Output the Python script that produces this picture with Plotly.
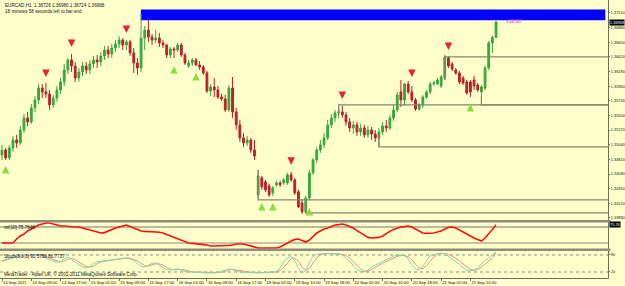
import plotly.graph_objects as go

# ---------------- data ----------------
header_text = "EURCAD,H1  1.36726 1.36980 1.36724 1.36968"
timer_text = "18 minutes 58 seconds left to bar end"
rsi_label = "rsi(10) 75.7648"
stoch_label = "Stoch(5,3,3) 91.5758 86.7727"
footer_text = "MetaTrader - Alpari UK, \u00a9 2001-2011 MetaQuotes Software Corp."
profit_text = "+18.68"
last_price = 1.36968

opens = [
    1.34881, 1.34959, 1.34834, 1.34990, 1.35116, 1.35069, 1.35273, 1.35461, 1.35399, 1.35618,
    1.35744, 1.35932, 1.35870, 1.35838, 1.35666, 1.35775, 1.35901, 1.36027, 1.36215, 1.36372,
    1.36278, 1.36089, 1.36184, 1.36278, 1.36215, 1.36309, 1.36372, 1.36341, 1.36435, 1.36529,
    1.36466, 1.36560, 1.36623, 1.36686, 1.36608, 1.36655, 1.36482, 1.36325, 1.36246, 1.36717,
    1.36843, 1.36733, 1.36686, 1.36717, 1.36639, 1.36608, 1.36451, 1.36545, 1.36529, 1.36608,
    1.36451, 1.36278, 1.36325, 1.36372, 1.36294, 1.36262, 1.36168, 1.35885, 1.35948, 1.35901,
    1.35791, 1.35760, 1.35587, 1.35932, 1.35556, 1.35352, 1.35148, 1.35069, 1.35116, 1.34959,
    1.34253, 1.34520, 1.34457, 1.34394, 1.34284, 1.34410, 1.34441, 1.34441, 1.34441, 1.34567,
    1.34488, 1.34300, 1.34127, 1.33986, 1.34205, 1.34598, 1.34802, 1.34959, 1.35038, 1.35148,
    1.35352, 1.35461, 1.35540, 1.35556, 1.35509, 1.35399, 1.35304, 1.35352, 1.35242, 1.35304,
    1.35195, 1.35273, 1.35210, 1.35148, 1.35242, 1.35336, 1.35304, 1.35461, 1.35587, 1.35870,
    1.35744, 1.35995, 1.35870, 1.35744, 1.35603, 1.35666, 1.35791, 1.35870, 1.35995, 1.35995,
    1.35964, 1.36089, 1.36403, 1.36309, 1.36215, 1.36168, 1.36089, 1.36027, 1.36027, 1.36058,
    1.35980, 1.35870, 1.35932, 1.36246, 1.36639, 1.36726,
]
highs = [
    1.35038, 1.34990, 1.35038, 1.35179, 1.35195, 1.35336, 1.35524, 1.35556, 1.35681, 1.35807,
    1.35995, 1.35995, 1.36011, 1.35901, 1.35823, 1.35964, 1.36089, 1.36309, 1.36403, 1.36466,
    1.36341, 1.36246, 1.36341, 1.36341, 1.36372, 1.36435, 1.36451, 1.36498, 1.36592, 1.36592,
    1.36623, 1.36686, 1.36749, 1.36717, 1.36686, 1.36686, 1.36560, 1.36403, 1.37094, 1.36906,
    1.37000, 1.36780, 1.36843, 1.36796, 1.36686, 1.36623, 1.36576, 1.36576, 1.36639, 1.36639,
    1.36482, 1.36372, 1.36403, 1.36403, 1.36356, 1.36294, 1.36199, 1.35995, 1.36089, 1.35964,
    1.35838, 1.35823, 1.35980, 1.36105, 1.35618, 1.35430, 1.35226, 1.35179, 1.35148, 1.35116,
    1.34645, 1.34551, 1.34488, 1.34425, 1.34394, 1.34472, 1.34472, 1.34520, 1.34598, 1.34614,
    1.34520, 1.34331, 1.34174, 1.34237, 1.34645, 1.34834, 1.35006, 1.35116, 1.35226, 1.35430,
    1.35524, 1.35587, 1.35618, 1.35650, 1.35556, 1.35461, 1.35414, 1.35399, 1.35367, 1.35352,
    1.35336, 1.35320, 1.35273, 1.35304, 1.35399, 1.35430, 1.35509, 1.35666, 1.35870, 1.36058,
    1.36011, 1.36042, 1.35964, 1.35775, 1.35697, 1.35823, 1.35901, 1.36027, 1.36042, 1.36089,
    1.36137, 1.36451, 1.36435, 1.36341, 1.36246, 1.36199, 1.36121, 1.36058, 1.36058, 1.36121,
    1.36011, 1.35980, 1.36278, 1.36670, 1.36749, 1.36980,
]
lows = [
    1.34802, 1.34802, 1.34802, 1.34928, 1.34990, 1.35038, 1.35226, 1.35336, 1.35367, 1.35556,
    1.35681, 1.35775, 1.35775, 1.35587, 1.35618, 1.35713, 1.35838, 1.35964, 1.36152, 1.36184,
    1.36027, 1.36027, 1.36121, 1.36152, 1.36152, 1.36246, 1.36246, 1.36278, 1.36372, 1.36403,
    1.36403, 1.36498, 1.36560, 1.36529, 1.36529, 1.36435, 1.36168, 1.36137, 1.36184, 1.36529,
    1.36655, 1.36608, 1.36639, 1.36576, 1.36560, 1.36403, 1.36403, 1.36403, 1.36498, 1.36419,
    1.36294, 1.36246, 1.36278, 1.36278, 1.36215, 1.36137, 1.35854, 1.35807, 1.35791, 1.35760,
    1.35728, 1.35556, 1.35556, 1.35461, 1.35273, 1.35085, 1.35006, 1.35022, 1.34912, 1.34802,
    1.34190, 1.34331, 1.34300, 1.34221, 1.34237, 1.34378, 1.34378, 1.34410, 1.34410, 1.34457,
    1.34253, 1.34048, 1.33954, 1.33954, 1.34174, 1.34567, 1.34755, 1.34912, 1.34990, 1.35116,
    1.35304, 1.35399, 1.35461, 1.35461, 1.35336, 1.35242, 1.35210, 1.35179, 1.35179, 1.35148,
    1.35148, 1.35116, 1.35085, 1.35006, 1.35195, 1.35242, 1.35273, 1.35414, 1.35556, 1.35634,
    1.35650, 1.35838, 1.35713, 1.35571, 1.35571, 1.35618, 1.35760, 1.35838, 1.35964, 1.35980,
    1.35932, 1.36058, 1.36246, 1.36199, 1.36137, 1.35995, 1.35980, 1.35823, 1.35791, 1.35901,
    1.35870, 1.35807, 1.35901, 1.36215, 1.36482, 1.36724,
]
closes = [
    1.34959, 1.34834, 1.34990, 1.35116, 1.35069, 1.35273, 1.35461, 1.35399, 1.35618, 1.35744,
    1.35932, 1.35870, 1.35838, 1.35666, 1.35775, 1.35901, 1.36027, 1.36215, 1.36372, 1.36278,
    1.36089, 1.36184, 1.36278, 1.36215, 1.36309, 1.36372, 1.36341, 1.36435, 1.36529, 1.36466,
    1.36560, 1.36623, 1.36686, 1.36608, 1.36655, 1.36482, 1.36325, 1.36246, 1.36717, 1.36843,
    1.36733, 1.36686, 1.36717, 1.36639, 1.36608, 1.36451, 1.36545, 1.36529, 1.36608, 1.36451,
    1.36325, 1.36325, 1.36372, 1.36294, 1.36262, 1.36168, 1.35885, 1.35948, 1.35901, 1.35791,
    1.35760, 1.35587, 1.35932, 1.35556, 1.35352, 1.35148, 1.35069, 1.35116, 1.34959, 1.34865,
    1.34551, 1.34378, 1.34331, 1.34253, 1.34362, 1.34441, 1.34410, 1.34488, 1.34567, 1.34488,
    1.34284, 1.34064, 1.33986, 1.34205, 1.34598, 1.34802, 1.34959, 1.35038, 1.35148, 1.35352,
    1.35461, 1.35540, 1.35556, 1.35509, 1.35399, 1.35304, 1.35352, 1.35242, 1.35304, 1.35195,
    1.35273, 1.35210, 1.35148, 1.35242, 1.35336, 1.35304, 1.35461, 1.35587, 1.35823, 1.35744,
    1.35995, 1.35870, 1.35744, 1.35603, 1.35666, 1.35791, 1.35870, 1.35995, 1.36011, 1.36058,
    1.36105, 1.36419, 1.36278, 1.36231, 1.36168, 1.36027, 1.36011, 1.35854, 1.35870, 1.35964,
    1.35901, 1.35948, 1.36246, 1.36639, 1.36726, 1.36968,
]

rsi = [
    30, 30, 30, 30, 40, 47.5, 52.5, 60, 65, 70,
    75, 77.5, 80, 80, 77.5, 75, 72.5, 72.5, 71, 70.5,
    70, 70, 67.5, 65, 62.5, 59, 56, 55, 56, 60,
    65, 67.5, 70, 72.5, 75, 71, 67.5, 62.5, 60, 59,
    58, 57.5, 57.5, 57, 55, 51, 47.5, 44, 40, 36,
    32.5, 30, 29, 27.5, 27.5, 26, 25, 22.5, 22.5, 22.5,
    22.5, 22.5, 24, 25, 27.5, 27.5, 27.5, 25, 22.5, 20,
    17.5, 17.5, 17.5, 17.5, 17.5, 17.5, 20, 24, 30, 35,
    39, 40, 36, 32.5, 37.5, 46, 55, 60, 65, 67.5,
    71, 75, 76, 77.5, 75, 71, 67.5, 61, 55, 49,
    44, 42.5, 42.5, 44, 47.5, 54, 59, 64, 67.5, 70,
    71, 72.5, 70, 65, 60, 55, 54, 54, 55, 57.5,
    60, 65, 69, 70, 67.5, 62.5, 57.5, 51, 47.5, 42.5,
    39, 35, 42.5, 52.5, 64, 75.76,
]
stoch_main = [
    60, 65, 70, 73, 75, 76, 77, 78, 80, 82,
    80, 76, 70, 64, 58, 55, 56, 66, 73, 65,
    54, 45, 38, 34, 40, 50, 56, 58, 60, 62,
    64, 66, 68, 70, 70, 66, 60, 50, 40, 38,
    44, 50, 52, 45, 36, 28, 27, 30, 31, 27,
    22, 20, 20, 20, 19, 17, 16, 17, 17, 18,
    22, 27, 31, 28, 23, 20, 19, 18, 17, 16,
    17, 18, 18, 19, 20, 21, 35, 55, 70, 75,
    60, 35, 17, 25, 55, 75, 82, 84, 85, 85,
    84, 84, 83, 80, 70, 58, 42, 28, 22, 20,
    28, 38, 45, 50, 57, 63, 70, 76, 80, 80,
    78, 65, 45, 30, 27, 40, 60, 78, 82, 85,
    87, 84, 75, 68, 60, 48, 35, 27, 25, 27,
    35, 48, 60, 70, 80, 91.58,
]
stoch_signal = [
    58, 62, 65, 69, 73, 75, 76, 77, 78, 80,
    81, 79, 75, 70, 64, 59, 56, 59, 65, 68,
    64, 55, 46, 39, 37, 41, 49, 55, 58, 60,
    62, 64, 66, 68, 69, 69, 65, 59, 50, 43,
    41, 44, 49, 49, 44, 36, 30, 28, 29, 29,
    27, 23, 21, 20, 20, 19, 17, 17, 17, 17,
    19, 22, 27, 29, 27, 24, 21, 19, 18, 17,
    17, 17, 18, 18, 19, 20, 25, 37, 53, 67,
    68, 57, 37, 26, 32, 52, 71, 80, 84, 85,
    85, 84, 84, 82, 78, 69, 57, 43, 31, 23,
    23, 29, 37, 44, 51, 57, 63, 70, 75, 79,
    79, 74, 63, 47, 34, 32, 42, 59, 73, 82,
    85, 85, 82, 76, 68, 59, 48, 37, 29, 26,
    29, 37, 48, 59, 70, 86.77,
]

time_labels = [
    "14 Sep 2011", "14 Sep 09:00", "14 Sep 17:00", "15 Sep 01:00", "15 Sep 09:00",
    "15 Sep 17:00", "16 Sep 01:00", "16 Sep 09:00", "16 Sep 17:00", "19 Sep 02:00",
    "19 Sep 10:00", "19 Sep 18:00", "20 Sep 02:00", "20 Sep 10:00", "20 Sep 18:00",
    "21 Sep 02:00", "21 Sep 10:00",
]
bars_per_label = 8
price_ticks = [1.37110, 1.36880, 1.36650, 1.36420, 1.36190, 1.35960, 1.35730, 1.35500,
               1.35270, 1.35040, 1.34810, 1.34580, 1.34350, 1.34120, 1.33890]

# fractal arrows
up_fractal_bars = [12, 19, 34, 79, 93, 112, 122]
up_fractal_prices = [1.36105, 1.36576, 1.36796, 1.34724, 1.35760, 1.36105, 1.36529]
down_fractal_bars = [1, 47, 53, 71, 74, 84, 128]
down_fractal_prices = [1.34708, 1.36278, 1.36168, 1.34127, 1.34127, 1.34048, 1.35681]

# support / resistance levels (start bar, level price, anchor price of the vertical stub)
level_bars = [121, 92, 131, 103, 70, 83]
level_prices = [1.36419, 1.35666, 1.35666, 1.35006, 1.34174, 1.33970]
level_anchors = [1.36058, 1.35540, 1.35807, 1.35195, 1.34645, 1.34205]

# blue rectangle object
box_start_bar, box_end_bar = 38, 164.8
box_top, box_bottom = 1.37160, 1.37000

rsi_levels = [70, 30]
stoch_levels = [80, 20]

# ---------------- layout helpers ----------------
W, H = 625, 286
ML, MR, MT, MB = 0, 17, 0, 8
PW, PH = W - ML - MR, H - MT - MB


def py(p):
    return (PH - (p - MT)) / PH


def pxx(p):
    return (p - ML) / PW


XR = [-0.55, 165.6]
BG = "#FFFFCC"
GREEN = "#35A83E"
RED = "#BE1E2A"
AXC = "#6E6E5C"
FONT = "Liberation Sans"

bars = list(range(len(closes)))

fig = go.Figure()

fig.add_trace(go.Candlestick(
    x=bars, open=opens, high=highs, low=lows, close=closes,
    xaxis="x", yaxis="y",
    increasing=dict(line=dict(color=GREEN, width=1), fillcolor=GREEN),
    decreasing=dict(line=dict(color=RED, width=1), fillcolor=RED),
    whiskerwidth=0, showlegend=False, hoverinfo="skip",
))

for b, lp, la in zip(level_bars, level_prices, level_anchors):
    fig.add_trace(go.Scatter(
        x=[b, b, XR[1]], y=[la, lp, lp], mode="lines",
        line=dict(color="#85856C", width=1.2), xaxis="x", yaxis="y",
        showlegend=False, hoverinfo="skip",
    ))

fig.add_trace(go.Scatter(
    x=up_fractal_bars, y=up_fractal_prices, mode="markers",
    marker=dict(symbol="arrow-down", size=7.5, color="#E8232B"),
    xaxis="x", yaxis="y", showlegend=False, hoverinfo="skip",
))
fig.add_trace(go.Scatter(
    x=down_fractal_bars, y=down_fractal_prices, mode="markers",
    marker=dict(symbol="arrow-up", size=7.5, color="#8EDC3C"),
    xaxis="x", yaxis="y", showlegend=False, hoverinfo="skip",
))

fig.add_trace(go.Scatter(
    x=bars, y=rsi, mode="lines", line=dict(color="#FF1010", width=1.6),
    xaxis="x2", yaxis="y2", showlegend=False, hoverinfo="skip",
))
fig.add_trace(go.Scatter(
    x=bars, y=stoch_signal, mode="lines", line=dict(color="#F4907E", width=1),
    xaxis="x3", yaxis="y3", showlegend=False, hoverinfo="skip",
))
fig.add_trace(go.Scatter(
    x=bars, y=stoch_main, mode="lines", line=dict(color="#7FD6B4", width=1),
    xaxis="x3", yaxis="y3", showlegend=False, hoverinfo="skip",
))

shapes = []
# blue rectangle
shapes.append(dict(type="rect", xref="x", yref="y", x0=box_start_bar, x1=box_end_bar,
                   y0=box_bottom, y1=box_top, fillcolor="#0000FF",
                   line=dict(color="#0000FF", width=0.5), layer="below"))
# rsi levels
shapes.append(dict(type="line", xref="paper", yref="y2", x0=0, x1=1, y0=rsi_levels[0], y1=rsi_levels[0],
                   line=dict(color="#77776A", width=1), layer="below"))
shapes.append(dict(type="line", xref="paper", yref="y2", x0=0, x1=1, y0=rsi_levels[1], y1=rsi_levels[1],
                   line=dict(color="#C9C2A0", width=2.2), layer="below"))
# stoch levels
for lv in stoch_levels:
    shapes.append(dict(type="line", xref="paper", yref="y3", x0=0, x1=1, y0=lv, y1=lv,
                       line=dict(color="#8A8A80", width=1, dash="dot"), layer="below"))
# window separators
for top, bot in [(220, 222.5), (248.5, 251)]:
    shapes.append(dict(type="rect", xref="paper", yref="paper", x0=0, x1=1.004,
                       y0=py(bot), y1=py(top), fillcolor="#8E8E7E", line=dict(width=0)))

annotations = []
small = dict(family=FONT, size=4.6, color="#111111")
annotations.append(dict(xref="paper", yref="paper", x=pxx(3), y=py(1), text=header_text,
                        showarrow=False, xanchor="left", yanchor="top", font=small))
annotations.append(dict(xref="paper", yref="paper", x=pxx(3), y=py(7), text=timer_text,
                        showarrow=False, xanchor="left", yanchor="top", font=small))
annotations.append(dict(xref="paper", yref="paper", x=pxx(2), y=py(223), text=rsi_label,
                        showarrow=False, xanchor="left", yanchor="top", font=small))
annotations.append(dict(xref="paper", yref="paper", x=pxx(2), y=py(251.5), text=stoch_label,
                        showarrow=False, xanchor="left", yanchor="top", font=small))
annotations.append(dict(xref="paper", yref="paper", x=pxx(2), y=py(269), text=footer_text,
                        showarrow=False, xanchor="left", yanchor="top", font=small))
annotations.append(dict(xref="x", yref="y", x=len(closes) + 1.2, y=last_price + 0.0001,
                        text=profit_text, showarrow=False, xanchor="left", yanchor="middle",
                        font=dict(family=FONT, size=4.8, color="#E040E0")))
# current price box
annotations.append(dict(xref="paper", yref="y", x=1.0, y=last_price, text="%.5f" % last_price,
                        showarrow=False, xanchor="left", yanchor="middle", xshift=0.5,
                        bgcolor="#000000", borderpad=0,
                        font=dict(family=FONT, size=3.9, color="#FFFFFF")))
# current rsi box
annotations.append(dict(xref="paper", yref="y2", x=1.0, y=rsi[-1], text="%.2f" % rsi[-1],
                        showarrow=False, xanchor="left", yanchor="middle", xshift=0.5,
                        bgcolor="#000000", borderpad=0,
                        font=dict(family=FONT, size=3.9, color="#FFFFFF")))

axis_font = dict(family=FONT, size=3.9, color="#111111")

fig.update_layout(
    width=W, height=H,
    margin=dict(l=ML, r=MR, t=MT, b=MB, pad=0, autoexpand=False),
    paper_bgcolor=BG, plot_bgcolor=BG,
    showlegend=False,
    font=dict(family=FONT),
    shapes=shapes, annotations=annotations,
    xaxis=dict(domain=[0, 1], range=XR, anchor="y", showticklabels=False, showgrid=False,
               zeroline=False, rangeslider=dict(visible=False), fixedrange=True, automargin=False),
    xaxis2=dict(domain=[0, 1], range=XR, anchor="y2", showticklabels=False, showgrid=False,
                zeroline=False, automargin=False),
    xaxis3=dict(domain=[0, 1], range=XR, anchor="y3", showgrid=False, zeroline=False,
                tickvals=[i * bars_per_label for i in range(len(time_labels))],
                ticktext=time_labels, ticks="outside", ticklen=2, tickcolor=AXC, tickangle=0,
                ticklabelposition="outside right", tickfont=dict(family=FONT, size=4.2, color="#111111"),
                showline=True, linecolor=AXC, linewidth=1, automargin=False),
    yaxis=dict(domain=[py(220), 1], range=[1.33858, 1.37314], anchor="x", side="right",
               tickvals=price_ticks, tickformat=".5f", ticks="outside", ticklen=1, tickcolor=AXC,
               tickfont=axis_font, showline=True, linecolor=AXC, linewidth=1,
               showgrid=False, zeroline=False, automargin=False),
    yaxis2=dict(domain=[py(249), py(222)], range=[15, 82.5], anchor="x2", side="right",
                tickvals=[], showline=True, linecolor=AXC, linewidth=1,
                showgrid=False, zeroline=False, automargin=False),
    yaxis3=dict(domain=[0, py(251)], range=[-1.2, 94.1], anchor="x3", side="right",
                tickvals=stoch_levels, ticks="outside", ticklen=1, tickcolor=AXC,
                tickfont=dict(family=FONT, size=3.9, color="#111111"),
                showline=True, linecolor=AXC, linewidth=1, showgrid=False, zeroline=False,
                automargin=False),
)

fig.write_html("out.html")
